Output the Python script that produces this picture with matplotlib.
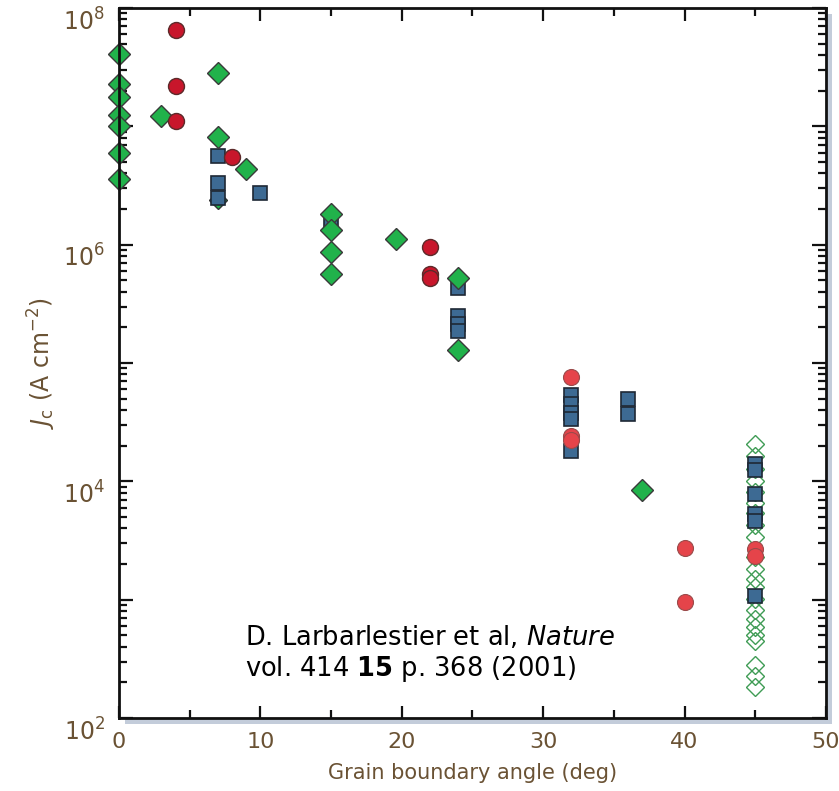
"""
Jc vs grain boundary angle (log scale), after Larbalestier et al., Nature 414 (2001).
"""

import math

import matplotlib
matplotlib.use("Agg")
import matplotlib.pyplot as plt
import matplotlib.transforms as mtransforms
from matplotlib.patches import Rectangle
from matplotlib.ticker import LogLocator, FuncFormatter, MultipleLocator

# green filled diamonds
dia_x = [0, 0, 0, 0, 0, 0, 0, 3, 7, 7, 9, 15, 15, 15, 15, 19.6, 24, 24, 37]
dia_y = [4.1e7, 2.27e7, 1.76e7, 1.24e7, 1.0e7, 5.9e6, 3.56e6, 1.22e7, 2.8e7, 8.2e6,
         4.4e6, 1.83e6, 1.34e6, 8.7e5, 5.7e5, 1.12e6, 5.25e5, 1.29e5, 8.5e3]

# small diamond hidden behind a square
small_x = [7]
small_y = [2.4e6]

# blue squares
sq_x = [7, 7, 7, 10, 15, 24, 24, 24, 24, 32, 32, 32, 32, 32, 36, 36,
        45, 45, 45, 45, 45, 45]
sq_y = [5.6e6, 3.3e6, 2.5e6, 2.75e6, 1.6e6, 4.3e5, 2.5e5, 2.15e5, 1.85e5,
        5.4e4, 4.5e4, 3.8e4, 3.35e4, 1.8e4, 4.95e4, 3.7e4,
        1.39e4, 1.24e4, 7.76e3, 5.25e3, 4.6e3, 1.08e3]

# dark red circles
red_x = [4, 4, 4, 8, 22, 22, 22]
red_y = [6.5e7, 2.18e7, 1.1e7, 5.5e6, 9.6e5, 5.6e5, 5.25e5]

# light red circles
lred_x = [32, 32, 32, 40, 40, 45, 45]
lred_y = [7.6e4, 2.4e4, 2.25e4, 2.75e3, 9.6e2, 2.7e3, 2.36e3]

# open diamonds at 45 deg
open_y = [2.06e4, 1.63e4, 1.26e4, 1.0e4, 8.2e3, 6.5e3, 5.4e3, 4.3e3, 3.4e3,
          2.3e3, 1.83e3, 1.5e3, 1.29e3, 1.02e3, 8.2e2, 6.9e2, 5.9e2, 5.0e2,
          4.5e2, 2.8e2, 2.27e2, 1.83e2]
open_x = [45] * len(open_y)

plt.rcParams["mathtext.fontset"] = "custom"
plt.rcParams["mathtext.rm"] = "DejaVu Sans"
plt.rcParams["mathtext.it"] = "DejaVu Sans:italic"
plt.rcParams["mathtext.bf"] = "DejaVu Sans:bold"

lab_color = "#6a5234"

fig = plt.figure(figsize=(8.39, 7.91), dpi=100)
ax_pos = [0.1418, 0.0923, 0.8427, 0.8976]
ax = fig.add_axes(ax_pos)

# drop shadow behind the frame
shadow = Rectangle((ax_pos[0] + 6 / 839, ax_pos[1] - 6 / 791), ax_pos[2], ax_pos[3],
                   transform=fig.transFigure, facecolor="#c3ccda", edgecolor="none",
                   zorder=-1)
fig.patches.append(shadow)

ax.plot(open_x, open_y, "D", ms=9, mfc="none", mec="#3f9c55", mew=1.0, ls="none")
ax.plot(small_x, small_y, "D", ms=9, mfc="#21b24b", mec="#333333", mew=1.0, ls="none")
ax.plot(sq_x, sq_y, "s", ms=9.5, mfc="#3d6a93", mec="#1e2835", mew=1.2, ls="none")
ax.plot(dia_x, dia_y, "D", ms=11, mfc="#21b24b", mec="#3a3a3a", mew=1.0, ls="none",
        clip_on=False)
ax.plot(red_x, red_y, "o", ms=11.5, mfc="#c8162b", mec="#5c2a2a", mew=1.0, ls="none")
ax.plot(lred_x, lred_y, "o", ms=11.5, mfc="#e5444a", mec="#9a4a4a", mew=0.8, ls="none")

ax.set_yscale("log")
ax.set_xlim(0, 50)
ax.set_ylim(1e2, 1e8)

ax.xaxis.set_major_locator(MultipleLocator(10))
ax.xaxis.set_minor_locator(MultipleLocator(5))
ax.yaxis.set_major_locator(LogLocator(base=10, numticks=20))
ax.yaxis.set_minor_locator(LogLocator(base=10, subs=range(2, 10), numticks=20))


def fmt(v, pos):
    e = int(round(math.log10(v)))
    return rf"$10^{{{e}}}$" if e % 2 == 0 else ""


ax.yaxis.set_major_formatter(FuncFormatter(fmt))

ax.tick_params(which="both", direction="in", top=True, right=True, color="#111111",
               width=1.6, labelcolor=lab_color, labelsize=17)
ax.tick_params(axis="y", which="major", length=10, pad=10)
ax.tick_params(axis="y", which="minor", length=6)
ax.tick_params(axis="x", which="major", length=9, pad=10, labelsize=16)
ax.tick_params(axis="x", which="minor", length=6)
for s in ax.spines.values():
    s.set_linewidth(2.0)
    s.set_color("#111111")

ax.set_xlabel("Grain boundary angle (deg)", fontsize=15, color=lab_color, labelpad=8)
ax.set_ylabel(r"$J_{\mathrm{c}}$ (A cm$^{-2}$)", fontsize=17, color=lab_color, labelpad=4)

ax.text(0.178, 0.09,
        "D. Larbarlestier et al, $\\mathit{Nature}$\nvol. 414 $\\mathbf{15}$ p. 368 (2001)",
        transform=ax.transAxes, fontsize=18.5, color="black", ha="left", va="center",
        linespacing=1.1)

# y tick labels sit a little below their ticks in the original
shift = mtransforms.ScaledTranslation(0, -8 / 72, fig.dpi_scale_trans)
for t in ax.yaxis.get_major_ticks():
    t.label1.set_transform(t.label1.get_transform() + shift)

plt.savefig("out.png", dpi=100)
